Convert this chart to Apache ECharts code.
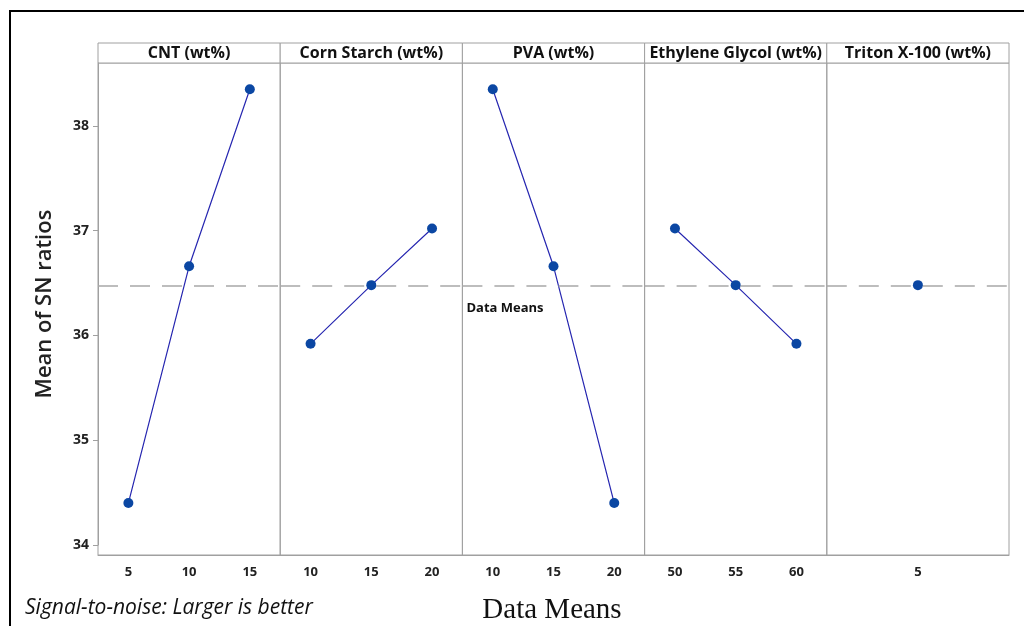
<!DOCTYPE html>
<html>
<head>
<meta charset="utf-8">
<script src="https://cdn.jsdelivr.net/npm/echarts@6/dist/echarts.min.js"></script>
<style>
  html, body { margin: 0; padding: 0; background: #fff; }
  #chart { width: 1024px; height: 626px; }
</style>
</head>
<body>
<div id="chart"></div>
<script>
// factor names (panel headers)
const factors = ['CNT (wt%)', 'Corn Starch (wt%)', 'PVA (wt%)', 'Ethylene Glycol (wt%)', 'Triton X-100 (wt%)'];
// levels of each factor
const levelsCNT = ['5', '10', '15'];
const levelsStarch = ['10', '15', '20'];
const levelsPVA = ['10', '15', '20'];
const levelsEG = ['50', '55', '60'];
const levelsTriton = ['5'];
// mean SN ratio at each level
const snCNT = [34.40, 36.66, 38.35];
const snStarch = [35.92, 36.48, 37.02];
const snPVA = [38.35, 36.66, 34.40];
const snEG = [37.02, 36.48, 35.92];
const snTriton = [36.48];
// y tick values
const yTicks = [34, 35, 36, 37, 38];

const levels = [levelsCNT, levelsStarch, levelsPVA, levelsEG, levelsTriton];
const values = [snCNT, snStarch, snPVA, snEG, snTriton];

const grandMean = snCNT.reduce((a, b) => a + b, 0) / snCNT.length;

// layout
const plotLeft = 98;
const plotRight = 1009;
const plotTop = 63;
const plotBottom = 555;   // frame bottom
const axisBottom = 545;   // where y = 34 sits
const headerH = 20;
const panelW = (plotRight - plotLeft) / factors.length;
const gray = '#a0a0a0';

const grids = [];
const xAxes = [];
const yAxes = [];
const series = [];
const graphics = [];

factors.forEach(function (name, i) {
  const x0 = plotLeft + i * panelW;
  grids.push({
    left: x0,
    top: plotTop,
    width: panelW,
    height: axisBottom - plotTop,
    show: false
  });
  xAxes.push({
    gridIndex: i,
    type: 'category',
    data: levels[i],
    boundaryGap: true,
    offset: plotBottom - axisBottom,
    axisLine: { lineStyle: { color: gray } },
    axisTick: { alignWithLabel: true, length: 4, lineStyle: { color: gray } },
    axisLabel: { color: '#222', fontFamily: 'Open Sans', fontWeight: 'bold', fontSize: 13, margin: 11 }
  });
  yAxes.push({
    gridIndex: i,
    type: 'value',
    min: 34,
    max: 38.6,
    interval: 1,
    show: i === 0,
    name: i === 0 ? 'Mean of SN ratios' : '',
    nameLocation: 'middle',
    nameRotate: 90,
    nameGap: 42,
    nameTextStyle: { color: '#222', fontFamily: 'Open Sans', fontSize: 22, fontWeight: 600 },
    axisLine: { show: true, lineStyle: { color: gray } },
    axisTick: { show: true, length: 5, customValues: yTicks, lineStyle: { color: gray } },
    axisLabel: {
      color: '#222', fontFamily: 'Open Sans', fontWeight: 'bold', fontSize: 14, margin: 9,
      customValues: yTicks
    },
    splitLine: { show: false }
  });
  series.push({
    type: 'line',
    xAxisIndex: i,
    yAxisIndex: i,
    data: values[i],
    symbol: 'circle',
    symbolSize: 10,
    lineStyle: { color: '#2626b0', width: 1.2 },
    itemStyle: { color: '#0b47a3' },
    animation: false,
    markLine: {
      silent: true,
      symbol: 'none',
      label: { show: false },
      lineStyle: { color: '#a8a8a8', type: [20, 12], width: 1.5 },
      data: [{ yAxis: grandMean }]
    }
  });
  // panel frame
  graphics.push({
    type: 'rect',
    shape: { x: x0, y: plotTop, width: panelW, height: plotBottom - plotTop },
    style: { fill: 'none', stroke: gray, lineWidth: 1 }
  });
  // header cell
  graphics.push({
    type: 'rect',
    shape: { x: x0, y: plotTop - headerH, width: panelW, height: headerH },
    style: { fill: '#fff', stroke: gray, lineWidth: 1 }
  });
  graphics.push({
    type: 'text',
    x: x0 + panelW / 2,
    y: plotTop - headerH / 2,
    style: {
      text: name, fill: '#111', font: 'bold 16px "Open Sans"',
      align: 'center', verticalAlign: 'middle'
    }
  });
});

graphics.push(
  {
    type: 'text', x: plotLeft + 2 * panelW + 4, y: 308,
    style: { text: 'Data Means', fill: '#111', font: 'bold 13px "Open Sans"', verticalAlign: 'middle' }
  },
  {
    type: 'text', x: 552, y: 610,
    style: { text: 'Data Means', fill: '#111', font: '29px "Liberation Serif"', align: 'center', verticalAlign: 'middle' }
  },
  {
    type: 'text', x: 25, y: 608,
    style: { text: 'Signal-to-noise: Larger is better', fill: '#111', font: 'italic 21px "Open Sans"', verticalAlign: 'middle' }
  },
  // outer frame (left and top edges)
  { type: 'line', shape: { x1: 10, y1: 11, x2: 10, y2: 626 }, style: { stroke: '#000', lineWidth: 2 } },
  { type: 'line', shape: { x1: 9, y1: 11, x2: 1024, y2: 11 }, style: { stroke: '#000', lineWidth: 2 } }
);

const chart = echarts.init(document.getElementById('chart'));
chart.setOption({
  animation: false,
  grid: grids,
  xAxis: xAxes,
  yAxis: yAxes,
  series: series,
  graphic: graphics
});
</script>
</body>
</html>
